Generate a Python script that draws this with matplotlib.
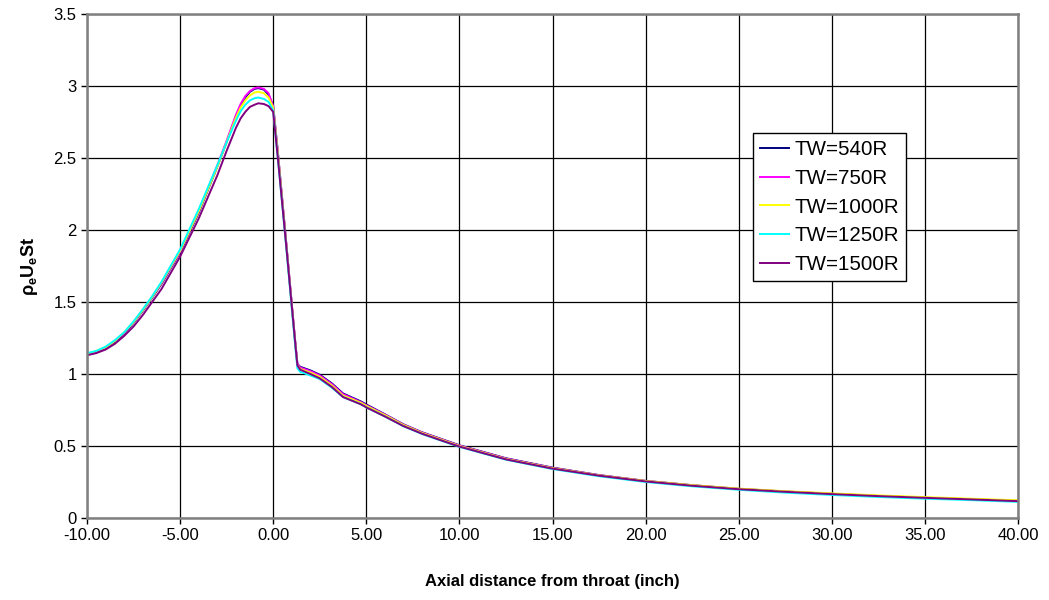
import matplotlib
matplotlib.use('Agg')
import matplotlib.pyplot as plt

plt.rcParams['font.family'] = ['Liberation Sans', 'DejaVu Sans']
plt.rcParams['mathtext.fontset'] = 'custom'
plt.rcParams['mathtext.rm'] = 'Liberation Sans'
plt.rcParams['mathtext.bf'] = 'Liberation Sans:bold'

x = [-10, -9.5, -9, -8.5, -8, -7.5, -7, -6.5, -6, -5, -4, -3, -2.5, -2, -1.75,
     -1.5, -1.25, -1, -0.8, -0.5, -0.25, 0, 0.25, 0.7, 1.0, 1.2, 1.3, 1.45,
     2.0, 2.5, 3.15, 3.75, 4.7, 5.05, 6.0, 7.0, 8.0, 9.0, 10, 12.5, 15, 17.5,
     20, 22.5, 25, 27.5, 30, 32.5, 35, 37.5, 40]

tw540 = [1.135, 1.15, 1.18, 1.225, 1.28, 1.355, 1.44, 1.53, 1.625, 1.845,
         2.12, 2.44, 2.61, 2.79, 2.865, 2.92, 2.96, 2.98, 2.985, 2.975, 2.94,
         2.86, 2.54, 1.91, 1.48, 1.20, 1.07, 1.05, 1.025, 0.995, 0.935, 0.865,
         0.81, 0.785, 0.72, 0.65, 0.595, 0.55, 0.505, 0.415, 0.35, 0.298,
         0.258, 0.228, 0.203, 0.184, 0.168, 0.153, 0.141, 0.13, 0.119]
tw750 = [1.135, 1.155, 1.185, 1.23, 1.285, 1.36, 1.445, 1.535, 1.63, 1.85,
         2.13, 2.45, 2.62, 2.80, 2.875, 2.93, 2.965, 2.985, 2.99, 2.98, 2.95,
         2.86, 2.54, 1.91, 1.48, 1.20, 1.07, 1.045, 1.02, 0.99, 0.93, 0.86,
         0.805, 0.78, 0.718, 0.648, 0.593, 0.548, 0.503, 0.413, 0.348, 0.297,
         0.257, 0.227, 0.202, 0.184, 0.168, 0.153, 0.141, 0.13, 0.119]
tw1000 = [1.14, 1.16, 1.185, 1.23, 1.29, 1.36, 1.445, 1.535, 1.635, 1.855,
          2.13, 2.44, 2.61, 2.78, 2.85, 2.90, 2.935, 2.955, 2.96, 2.95, 2.92,
          2.85, 2.53, 1.90, 1.47, 1.19, 1.06, 1.035, 1.01, 0.98, 0.92, 0.85,
          0.80, 0.775, 0.714, 0.645, 0.59, 0.545, 0.50, 0.41, 0.346, 0.296,
          0.257, 0.228, 0.204, 0.186, 0.171, 0.157, 0.145, 0.134, 0.123]
tw1250 = [1.145, 1.16, 1.19, 1.235, 1.29, 1.365, 1.45, 1.54, 1.64, 1.865,
          2.145, 2.45, 2.61, 2.76, 2.825, 2.87, 2.90, 2.915, 2.92, 2.91, 2.89,
          2.83, 2.50, 1.88, 1.45, 1.17, 1.04, 1.015, 0.99, 0.965, 0.905, 0.84,
          0.79, 0.765, 0.705, 0.637, 0.583, 0.538, 0.494, 0.405, 0.34, 0.29,
          0.25, 0.22, 0.196, 0.176, 0.16, 0.146, 0.134, 0.124, 0.112]
tw1500 = [1.13, 1.145, 1.17, 1.21, 1.265, 1.33, 1.41, 1.50, 1.59, 1.815,
          2.08, 2.38, 2.55, 2.71, 2.775, 2.82, 2.855, 2.87, 2.88, 2.875, 2.86,
          2.82, 2.50, 1.89, 1.47, 1.19, 1.06, 1.03, 1.00, 0.97, 0.91, 0.84,
          0.79, 0.765, 0.705, 0.638, 0.585, 0.54, 0.496, 0.407, 0.343, 0.294,
          0.254, 0.224, 0.2, 0.182, 0.166, 0.152, 0.14, 0.129, 0.117]

labels = ['TW=540R', 'TW=750R', 'TW=1000R', 'TW=1250R', 'TW=1500R']
colors = ['#000080', '#FF00FF', '#FFFF00', '#00FFFF', '#800080']
series = [tw540, tw750, tw1000, tw1250, tw1500]

xticks = [-10, -5, 0, 5, 10, 15, 20, 25, 30, 35, 40]
yticks = [0, 0.5, 1, 1.5, 2, 2.5, 3, 3.5]

fig = plt.figure(figsize=(10.49, 6), dpi=100)
ax = fig.add_axes([87/1049, 82/600, 931/1049, 504/600])

for ys, c, lab in zip(series, colors, labels):
    ax.plot(x, ys, color=c, lw=1.4, label=lab)

ax.set_xlim(-10, 40)
ax.set_ylim(0, 3.5)
ax.set_xticks(xticks)
ax.set_xticklabels(['%.2f' % v for v in xticks])
ax.set_yticks(yticks)
ax.set_yticklabels(['%g' % v for v in yticks])
ax.grid(True, color='black', lw=0.9)
ax.set_axisbelow(True)
for s in ax.spines.values():
    s.set_color('#808080')
    s.set_linewidth(1.8)
ax.tick_params(direction='out', length=4, width=1, color='black', labelsize=12)

ax.set_xlabel('Axial distance from throat (inch)', fontsize=12, fontweight='bold', labelpad=22)
ax.set_ylabel(r'$\mathbf{ρ_eU_eSt}$', fontsize=13, labelpad=10)

leg = ax.legend(loc='upper left', bbox_to_anchor=(753/1049, 1 - 133/600),
                bbox_transform=fig.transFigure, borderaxespad=0, fontsize=14.8,
                fancybox=False, framealpha=1, edgecolor='black',
                handlelength=1.4, handletextpad=0.25, labelspacing=0.47,
                borderpad=0.35)
leg.get_frame().set_linewidth(1)

fig.savefig('out.png', dpi=100)
